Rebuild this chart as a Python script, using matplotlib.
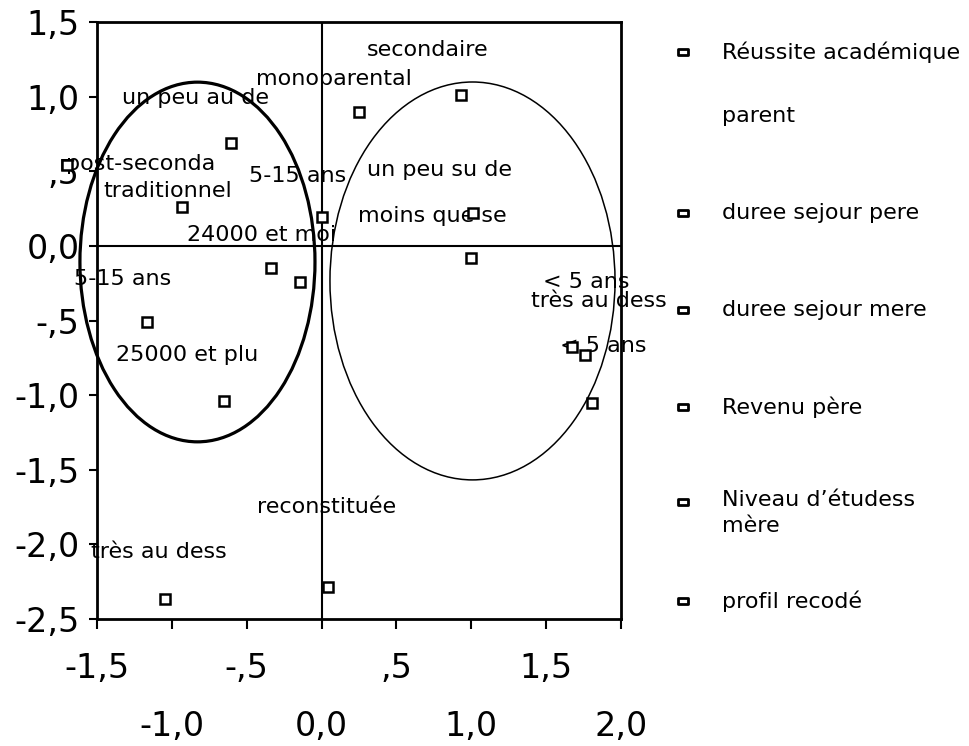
import matplotlib
matplotlib.use("Agg")
import matplotlib.pyplot as plt
from matplotlib.patches import Ellipse
from matplotlib.lines import Line2D
from matplotlib.path import Path

plt.rcParams['font.family'] = ['DejaVu Sans']

# ---- data ----
pt_x = [-0.605, -0.932, 0.003, -0.338, -0.144, -1.166, -0.652, -1.046,
        0.250, 0.931, 1.011, 0.998, 1.673, 1.760, 1.806, 0.043, -1.701]
pt_y = [0.689, 0.261, 0.194, -0.147, -0.241, -0.510, -1.039, -2.366,
        0.897, 1.011, 0.220, -0.081, -0.677, -0.731, -1.052, -2.285, 0.542]

cat_labels = ["secondaire", "monoparental", "un peu au de", "post-seconda",
              "traditionnel", "5-15 ans", "un peu su de", "moins que se",
              "24000 et moi", "5-15 ans", "< 5 ans", "très au dess",
              "< 5 ans", "25000 et plu", "reconstituée", "très au dess"]
# label anchor positions (data coordinates)
label_pos = [(0.71, 1.31), (0.08, 1.12), (-0.84, 0.99), (-1.21, 0.55),
             (-1.03, 0.37), (-0.16, 0.47), (0.79, 0.51), (0.74, 0.20),
             (-0.40, 0.07), (-1.33, -0.22), (1.77, -0.24), (1.85, -0.37),
             (1.88, -0.67), (-0.90, -0.73), (0.03, -1.75), (-1.09, -2.05)]

legend_labels = ["Réussite académique", "parent", "duree sejour pere",
                 "duree sejour mere", "Revenu père",
                 "Niveau d\u2019étudess\nmère", "profil recodé"]
legend_marker = [True, False, True, True, True, True, True]

x_ticks = [-1.5, -1.0, -0.5, 0.0, 0.5, 1.0, 1.5, 2.0]
x_tick_labels = ["-1,5", "-1,0", "-,5", "0,0", ",5", "1,0", "1,5", "2,0"]
y_ticks = [1.5, 1.0, 0.5, 0.0, -0.5, -1.0, -1.5, -2.0, -2.5]
y_tick_labels = ["1,5", "1,0", ",5", "0,0", "-,5", "-1,0", "-1,5", "-2,0", "-2,5"]

# ellipses: (center x, center y, width, height, linewidth)
ellipses = [(-0.829, -0.108, 1.57, 2.41, 2.3),
            (1.008, -0.235, 1.904, 2.666, 1.1)]

# ---- figure ----
W, H = 969, 746
fig = plt.figure(figsize=(W / 100, H / 100), dpi=100)
ax = fig.add_axes([97 / W, 1 - 619 / H, (621 - 97) / W, (619 - 22) / H])
ax.set_xlim(-1.5, 2.0)
ax.set_ylim(-2.5, 1.5)

for sp in ax.spines.values():
    sp.set_linewidth(2.0)

ax.axhline(0, color='black', lw=1.5, zorder=1)
ax.axvline(0, color='black', lw=1.5, zorder=1)

for cx, cy, w, h, lw in ellipses:
    ax.add_patch(Ellipse((cx, cy), w, h, fill=False, edgecolor='black',
                         lw=lw, zorder=2, clip_on=False))

ax.plot(pt_x, pt_y, linestyle='none', marker='s', markersize=6.6,
        markerfacecolor='white', markeredgecolor='black', markeredgewidth=1.8,
        clip_on=False, zorder=4)

for txt, (lx, ly) in zip(cat_labels, label_pos):
    ax.text(lx, ly, txt, fontsize=16, ha='center', va='center',
            color='black', zorder=3, clip_on=False)

ax.set_xticks(x_ticks)
ax.set_xticklabels(x_tick_labels, fontsize=24)
ax.set_yticks(y_ticks)
ax.set_yticklabels(y_tick_labels, fontsize=24)
ax.tick_params(axis='x', direction='out', length=7.2, width=1.5)
ax.tick_params(axis='y', direction='out', length=6, width=1.5, pad=6.5)
for i, t in enumerate(ax.xaxis.get_major_ticks()):
    t.set_pad(16.5 if i % 2 == 0 else 58.5)

# ---- legend drawn at the right ----
rect = Path([(-1.3, -1.0), (1.3, -1.0), (1.3, 1.0), (-1.3, 1.0), (-1.3, -1.0)],
            [Path.MOVETO, Path.LINETO, Path.LINETO, Path.LINETO, Path.CLOSEPOLY])
legend_rows_px = [52, 116, 213, 310, 407, 502, 601]
for lab, has_m, ypx in zip(legend_labels, legend_marker, legend_rows_px):
    yf = 1 - ypx / H
    if has_m:
        fig.add_artist(Line2D([683 / W], [yf], transform=fig.transFigure,
                              marker=rect, markersize=6.5, markerfacecolor='white',
                              markeredgecolor='black', markeredgewidth=2.0,
                              linestyle='none'))
    if "\n" in lab:
        fig.text(722 / W, 1 - (ypx - 12) / H, lab, fontsize=16, ha='left',
                 va='top', linespacing=1.35)
    else:
        fig.text(722 / W, yf, lab, fontsize=16, ha='left', va='center')

fig.savefig("out.png", dpi=100, facecolor='white')
